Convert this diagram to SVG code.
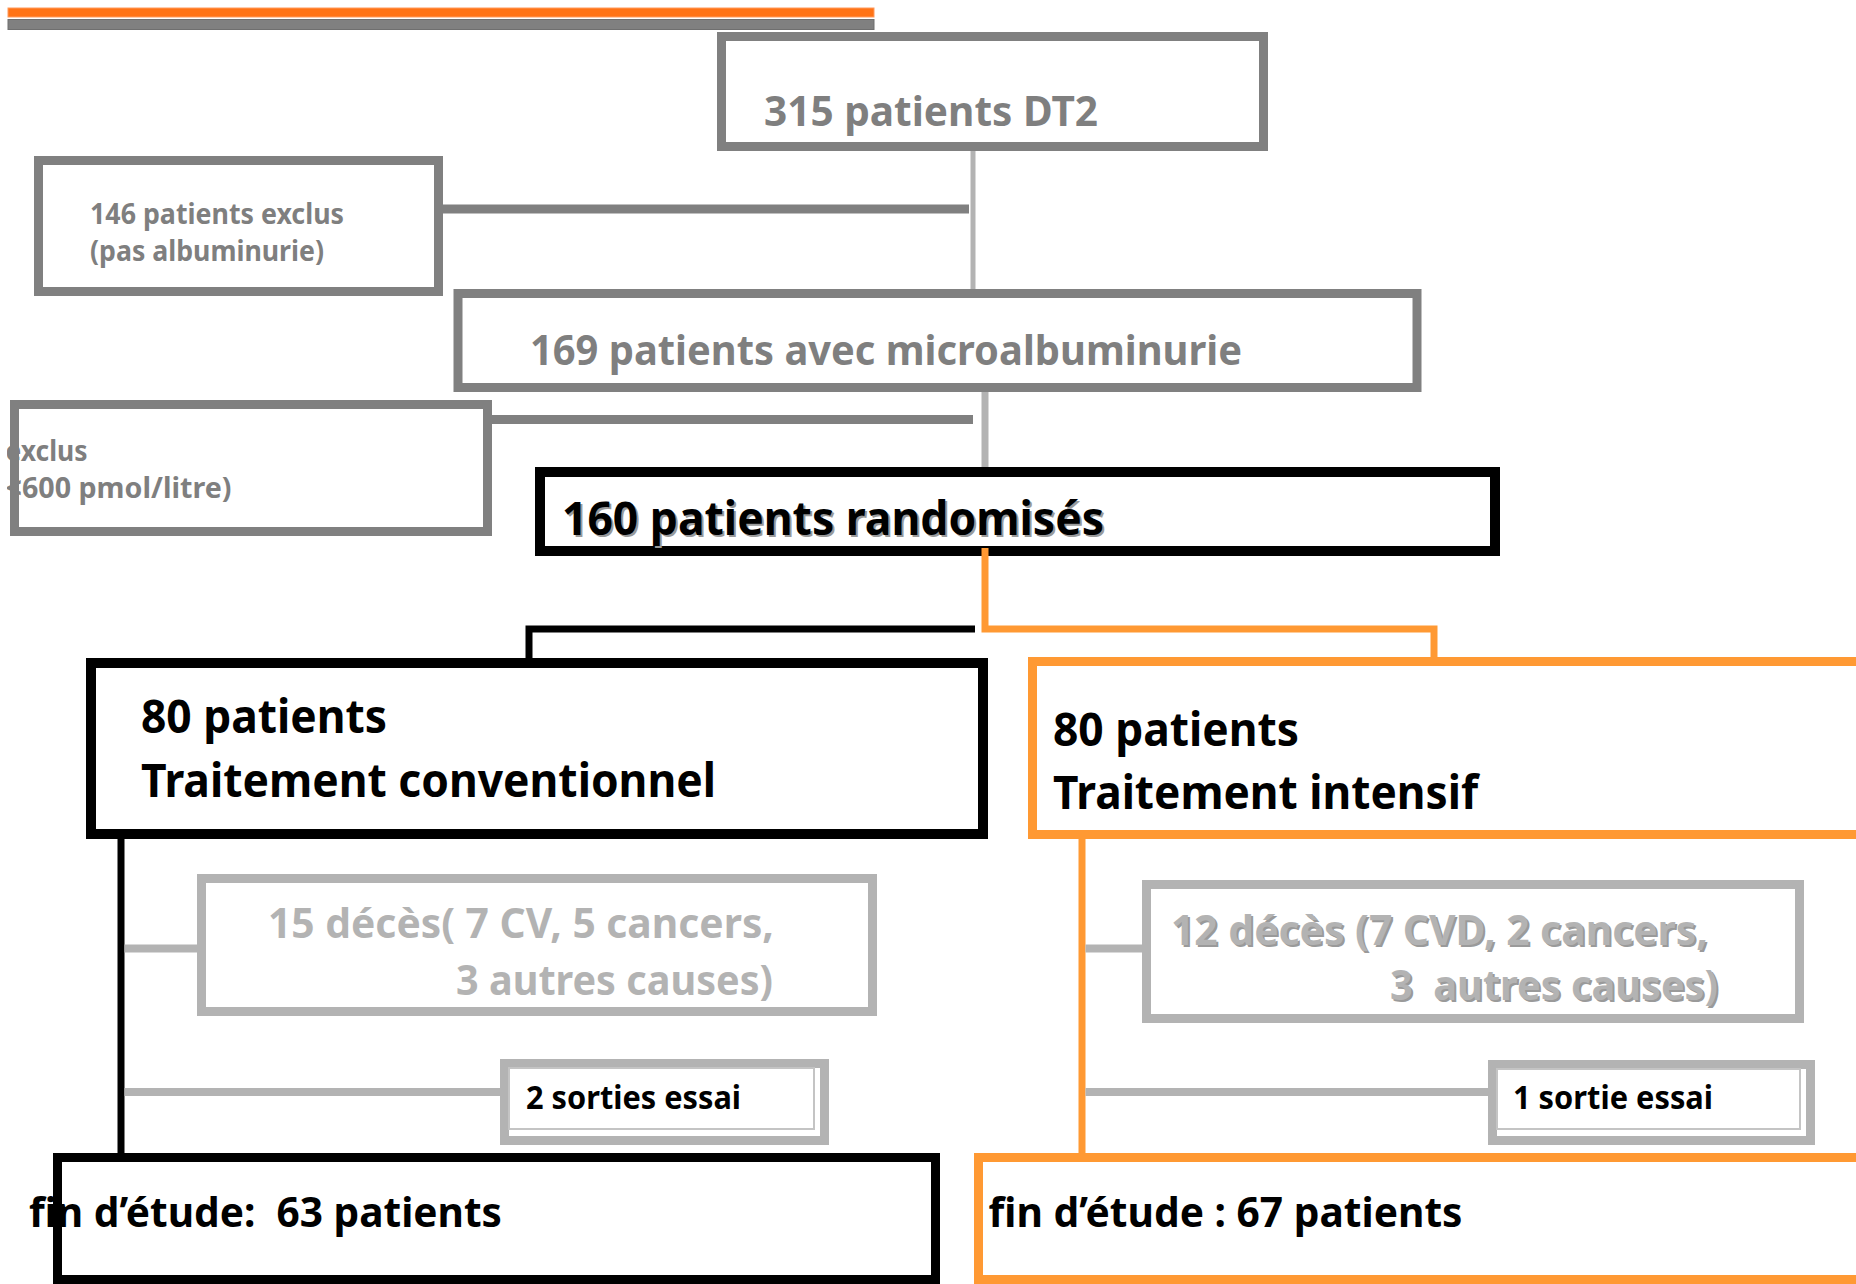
<svg xmlns="http://www.w3.org/2000/svg" width="1856" height="1284" viewBox="0 0 1856 1284">
<defs>
<style>
.t{font-family:"Noto Sans","Open Sans","DejaVu Sans",sans-serif;font-weight:700}
.g{fill:#7f7f7f}
.lg{fill:#b3b3b3}
.sh{fill:#9a9a9a}
.k{fill:#000}
.bd{fill:#fff;stroke:#808080;stroke-width:9}
.bl{fill:#fff;stroke:#b3b3b3;stroke-width:9}
.bk{fill:#fff;stroke:#000;stroke-width:10}
.bo{fill:#fff;stroke:#ff9933;stroke-width:9}
.in{fill:none;stroke:#c4c4c4;stroke-width:2}
</style>
<clipPath id="clipL"><rect x="7" y="380" width="600" height="160"/></clipPath>
</defs>
<rect x="0" y="0" width="1856" height="1284" fill="#fff"/>
<g id="topbars">
<rect x="8" y="8" width="866" height="9" fill="#ff7316" stroke="#ff9a5c" stroke-width="1"/>
<rect x="8" y="19.5" width="866" height="10" fill="#808080" stroke="#6f6f6f" stroke-width="1"/>
</g>
<g id="n315"><rect class="bd" x="721.5" y="36.5" width="542" height="110"/><text class="t g" x="764" y="126" font-size="42" textLength="334" lengthAdjust="spacingAndGlyphs">315 patients DT2</text></g>
<g id="n146"><rect class="bd" x="38.5" y="160.5" width="400" height="131"/><text class="t g" x="90" y="224" font-size="28" textLength="254" lengthAdjust="spacingAndGlyphs">146 patients exclus</text><text class="t g" x="90" y="261" font-size="28" textLength="234" lengthAdjust="spacingAndGlyphs">(pas albuminurie)</text></g>
<g id="n169"><rect class="bd" x="458" y="293.5" width="959" height="94"/><text class="t g" x="530" y="365" font-size="42" textLength="712" lengthAdjust="spacingAndGlyphs">169 patients avec microalbuminurie</text></g>
<g id="nexcl2"><g clip-path="url(#clipL)"><text class="t g" x="5.5" y="461" font-size="28" textLength="82" lengthAdjust="spacingAndGlyphs">exclus</text><text class="t g" x="5.5" y="498" font-size="28" textLength="226" lengthAdjust="spacingAndGlyphs">&lt;600 pmol/litre)</text></g><rect x="14.5" y="404.5" width="473" height="127" fill="none" stroke="#808080" stroke-width="9"/></g>
<g id="n160"><rect class="bk" x="540" y="472" width="955" height="79"/><text class="t sh" x="564" y="537" font-size="46.5" textLength="542" lengthAdjust="spacingAndGlyphs">160 patients randomisés</text><text class="t k" x="562" y="535" font-size="46.5" textLength="542" lengthAdjust="spacingAndGlyphs">160 patients randomisés</text></g>
<g id="nconv"><rect class="bk" x="91" y="663" width="892" height="171"/><text class="t k" x="141" y="733" font-size="46.5" textLength="246" lengthAdjust="spacingAndGlyphs">80 patients</text><text class="t k" x="141" y="797" font-size="46.5" textLength="575" lengthAdjust="spacingAndGlyphs">Traitement conventionnel</text></g>
<g id="nint"><rect class="bo" x="1032.5" y="661.5" width="900" height="173"/><text class="t k" x="1053" y="746" font-size="46.5" textLength="246" lengthAdjust="spacingAndGlyphs">80 patients</text><text class="t k" x="1053" y="809" font-size="46.5" textLength="425" lengthAdjust="spacingAndGlyphs">Traitement intensif</text></g>
<g id="ndec15"><rect class="bl" x="201.5" y="878.5" width="671" height="133"/><text class="t lg" x="268" y="938" font-size="42" textLength="506" lengthAdjust="spacingAndGlyphs">15 décès( 7 CV, 5 cancers,</text><text class="t lg" x="456" y="995" font-size="42" textLength="317" lengthAdjust="spacingAndGlyphs">3 autres causes)</text></g>
<g id="nsort2"><rect class="bl" x="504.5" y="1063.5" width="320" height="77"/><rect class="in" x="509" y="1068" width="305" height="61"/><text class="t k" x="526" y="1109" font-size="33" textLength="215" lengthAdjust="spacingAndGlyphs">2 sorties essai</text></g>
<g id="ndec12"><rect class="bl" x="1146.5" y="884.5" width="653" height="134"/><text class="t sh" x="1173" y="947" font-size="42" textLength="537" lengthAdjust="spacingAndGlyphs">12 décès (7 CVD, 2 cancers,</text><text class="t lg" x="1171" y="945" font-size="42" textLength="537" lengthAdjust="spacingAndGlyphs">12 décès (7 CVD, 2 cancers,</text><text class="t sh" x="1392" y="1002" font-size="42" textLength="328" lengthAdjust="spacingAndGlyphs" xml:space="preserve">3  autres causes)</text><text class="t lg" x="1390" y="1000" font-size="42" textLength="328" lengthAdjust="spacingAndGlyphs" xml:space="preserve">3  autres causes)</text></g>
<g id="nsort1"><rect class="bl" x="1492.5" y="1064.5" width="318" height="76"/><rect class="in" x="1497" y="1069" width="303" height="60"/><text class="t k" x="1513" y="1109" font-size="33" textLength="200" lengthAdjust="spacingAndGlyphs">1 sortie essai</text></g>
<g id="nfin63"><rect x="57.5" y="1157.5" width="878" height="122" fill="#fff" stroke="#000" stroke-width="9"/><text class="t k" x="29" y="1227" font-size="42" textLength="473" lengthAdjust="spacingAndGlyphs" xml:space="preserve">fin d’étude:  63 patients</text></g>
<g id="nfin67"><rect class="bo" x="978.5" y="1157.5" width="900" height="122"/><text class="t k" x="988.5" y="1227" font-size="42" textLength="474" lengthAdjust="spacingAndGlyphs">fin d’étude : 67 patients</text></g>
<g id="connectors" fill="none">
<line x1="443" y1="209" x2="969" y2="209" stroke="#808080" stroke-width="9"/>
<line x1="973" y1="151" x2="973" y2="289" stroke="#b3b3b3" stroke-width="5"/>
<line x1="492" y1="419.5" x2="973" y2="419.5" stroke="#808080" stroke-width="9"/>
<line x1="985" y1="392" x2="985" y2="467" stroke="#b3b3b3" stroke-width="7"/>
<polyline points="985,548 985,629 1434,629 1434,657" stroke="#ff9933" stroke-width="7"/>
<polyline points="975,629 529,629 529,658" stroke="#000" stroke-width="7"/>
<line x1="121" y1="839" x2="121" y2="1153" stroke="#000" stroke-width="7"/>
<line x1="1082" y1="839" x2="1082" y2="1153" stroke="#ff9933" stroke-width="7"/>
<line x1="124.5" y1="948.5" x2="197" y2="948.5" stroke="#b3b3b3" stroke-width="8"/>
<line x1="124.5" y1="1092" x2="500" y2="1092" stroke="#b3b3b3" stroke-width="8"/>
<line x1="1085.5" y1="948.5" x2="1142" y2="948.5" stroke="#b3b3b3" stroke-width="8"/>
<line x1="1085.5" y1="1092" x2="1488" y2="1092" stroke="#b3b3b3" stroke-width="8"/>
</g>
</svg>
